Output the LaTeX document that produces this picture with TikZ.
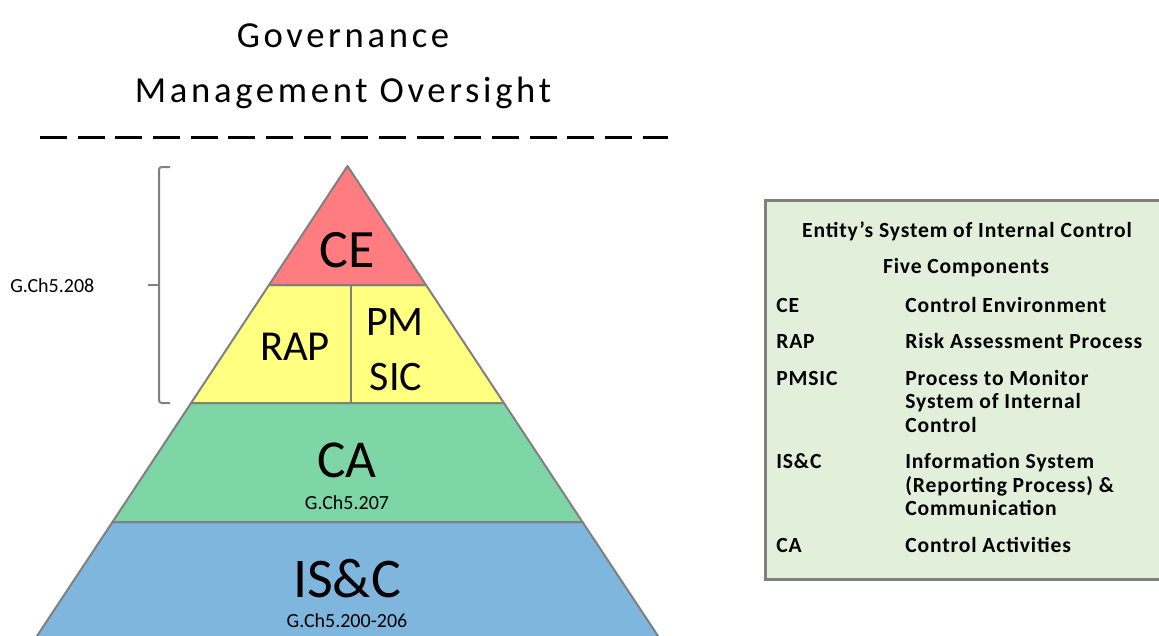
\documentclass[tikz,border=0pt]{standalone}
\usepackage{fontspec}
\setmainfont{Carlito}
\newfontfamily\titlefont[LetterSpace=10]{Carlito}
\newfontfamily\boxfont[LetterSpace=4]{Carlito}
\usepackage{tikz}

\definecolor{ceRed}{RGB}{255,125,128}
\definecolor{rapYellow}{RGB}{255,255,128}
\definecolor{caGreen}{RGB}{126,214,166}
\definecolor{iscBlue}{RGB}{127,182,221}
\definecolor{lineGray}{RGB}{128,128,128}
\definecolor{boxGreen}{RGB}{226,239,218}

\begin{document}
\begin{tikzpicture}[x=0.75pt,y=0.75pt,yscale=-1,xscale=1,
    layer/.style={draw=lineGray, line width=1.5pt, line join=round},
    bigtext/.style={anchor=base, inner sep=0pt},
    reftext/.style={anchor=base, inner sep=0pt, font=\fontsize{15}{18}\selectfont},
    keytext/.style={anchor=base west, inner sep=0pt, align=left, font=\boxfont\bfseries\fontsize{16.2}{17.6}\selectfont}]
        \clip (0,0) rectangle (1159,635); %set diagram to 1159 x 635
        % Text Node
        \draw (343,48) node (gov) [bigtext] [font=\titlefont\fontsize{27.5}{30}\selectfont] {Governance};
        % Text Node
        \draw (343,103) node (mgmt) [bigtext] [font=\titlefont\fontsize{27.5}{30}\selectfont] {Management Oversight};
        %Straight Lines [dashed]
        \draw [line width=2.25pt, dash pattern=on 20.25pt off 8pt] (40,137) -- (668,137) ;
        %Shape: Trapezoid [IS&C]
        \draw [layer, fill=iscBlue] (112.5,522) -- (582.5,522) -- (662,642) -- (33,642) -- cycle ;
        %Shape: Trapezoid [CA]
        \draw [layer, fill=caGreen] (191.1,403) -- (503.9,403) -- (582.5,522) -- (112.5,522) -- cycle ;
        %Shape: Trapezoid [RAP / PMSIC]
        \draw [layer, fill=rapYellow] (269,285) -- (426,285) -- (503.9,403) -- (191.1,403) -- cycle ;
        %Straight Lines [divider]
        \draw [layer] (351,285) -- (351,403) ;
        %Shape: Triangle [CE]
        \draw [layer, fill=ceRed] (347.5,166) -- (426,285) -- (269,285) -- cycle ;
        % Text Node
        \draw (347,267) node (ce) [bigtext] [font=\fontsize{40.5}{44}\selectfont] {CE};
        % Text Node
        \draw (295,360) node (rap) [bigtext] [font=\fontsize{32}{36}\selectfont] {RAP};
        % Text Node
        \draw (395,335) node (pm) [bigtext] [font=\fontsize{31.5}{36}\selectfont] {PM};
        % Text Node
        \draw (396,390) node (sic) [bigtext] [font=\fontsize{31.5}{36}\selectfont] {SIC};
        % Text Node
        \draw (347,477) node (ca) [bigtext] [font=\fontsize{40}{44}\selectfont] {CA};
        % Text Node
        \draw (347,509) node (caref) [reftext] {G.Ch5.207};
        % Text Node
        \draw (347,597) node (isc) [bigtext] [font=\fontsize{42}{46}\selectfont] {IS\&C};
        % Text Node
        \draw (347,627) node (iscref) [reftext] {G.Ch5.200-206};
        %Shape: Bracket
        \draw [draw=lineGray, line width=1.5pt, rounded corners=2pt] (170,167) -- (159,167) -- (159,403) -- (170,403) ;
        \draw [draw=lineGray, line width=1.5pt] (159,285) -- (148,285) ;
        % Text Node
        \draw (10,292) node (topref) [reftext, anchor=base west] {G.Ch5.208};
        %Shape: Rectangle [legend]
        \draw [draw=lineGray, line width=2.25pt, fill=boxGreen] (765,200) rectangle (1180,579) ;
        % Text Node
        \draw (967,237) node (keyhead) [keytext, anchor=base] {Entity’s System of Internal Control};
        \draw (966,273) node (keysub) [keytext, anchor=base] {Five Components};
        % Text Node
        \draw (776,312) node (kce) [keytext] {CE};
        \draw (905,312) node (dce) [keytext] {Control Environment};
        \draw (776,348) node (krap) [keytext] {RAP};
        \draw (905,348) node (drap) [keytext] {Risk Assessment Process};
        \draw (776,385) node (kpm) [keytext] {PMSIC};
        \draw (905,385) node (dpm1) [keytext] {Process to Monitor};
        \draw (905,408) node (dpm2) [keytext] {System of Internal};
        \draw (905,432) node (dpm3) [keytext] {Control};
        \draw (776,468) node (kisc) [keytext] {IS\&C};
        \draw (905,468) node (disc1) [keytext] {Information System};
        \draw (905,492) node (disc2) [keytext] {(Reporting Process) \&};
        \draw (905,515) node (disc3) [keytext] {Communication};
        \draw (776,552) node (kca) [keytext] {CA};
        \draw (905,552) node (dca) [keytext] {Control Activities};
\end{tikzpicture}
\end{document}
